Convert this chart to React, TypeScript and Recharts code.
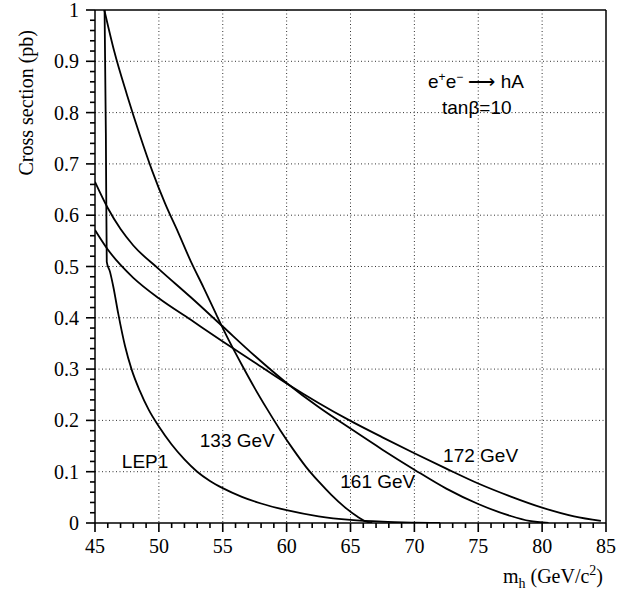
import React from "react";
import { LineChart, Line, XAxis, YAxis, CartesianGrid, ReferenceDot } from "recharts";

// curves: m_h (GeV/c^2) vs cross section (pb)
const lep1Mass = [45.75, 45.85, 45.92, 46.17, 46.43, 46.82, 47.35, 47.87, 48.5, 49.2, 50, 51, 52, 53, 54, 55, 56.5, 58, 60, 62.5, 65, 67.5, 70, 72];
const lep1Sigma = [1, 0.76, 0.509, 0.49, 0.461, 0.408, 0.345, 0.299, 0.258, 0.221, 0.188, 0.153, 0.124, 0.1, 0.082, 0.068, 0.051, 0.038, 0.025, 0.013, 0.006, 0.0025, 0.0008, 0];

const mass133 = [45.73, 46.5, 47.5, 48.5, 49.5, 50.5, 51.5, 52.5, 53.5, 54.5, 55.5, 56.5, 57.5, 58.5, 59.5, 60.5, 61.5, 62.5, 63.5, 64.5, 65.5, 66.2, 66.7];
const sigma133 = [1, 0.92, 0.835, 0.757, 0.685, 0.622, 0.567, 0.51, 0.459, 0.406, 0.355, 0.308, 0.263, 0.221, 0.181, 0.144, 0.11, 0.081, 0.055, 0.032, 0.013, 0.003, 0];

const mass161 = [45, 46, 47, 48, 50, 52.5, 55, 57.5, 60, 62.5, 65, 67.5, 70, 72.5, 75, 77.5, 79, 80.5];
const sigma161 = [0.665, 0.614, 0.573, 0.541, 0.495, 0.44, 0.383, 0.326, 0.273, 0.226, 0.184, 0.143, 0.104, 0.067, 0.037, 0.014, 0.004, 0];

const mass172 = [45, 46, 47, 48, 50, 52.5, 55, 57.5, 60, 62.5, 65, 67.5, 70, 72.5, 75, 77.5, 80, 82.5, 84.6];
const sigma172 = [0.571, 0.533, 0.503, 0.478, 0.438, 0.396, 0.354, 0.313, 0.272, 0.234, 0.199, 0.167, 0.136, 0.106, 0.077, 0.052, 0.03, 0.013, 0.004];

const xMajorTicks = [45, 50, 55, 60, 65, 70, 75, 80, 85];
const yMajorTicks = [0, 0.1, 0.2, 0.3, 0.4, 0.5, 0.6, 0.7, 0.8, 0.9, 1];
const yTickLabels = ["0", "0.1", "0.2", "0.3", "0.4", "0.5", "0.6", "0.7", "0.8", "0.9", "1"];

// curve labels, placed in data coordinates (left edge / baseline)
const curveLabels = [
  { x: 47.1, y: 0.107, text: "LEP1" },
  { x: 53.2, y: 0.148, text: "133 GeV" },
  { x: 64.2, y: 0.068, text: "161 GeV" },
  { x: 72.25, y: 0.119, text: "172 GeV" },
];

const toPoints = (m: number[], s: number[]) => m.map((x, i) => ({ x, y: s[i] }));

const curves = [
  { name: "LEP1", data: toPoints(lep1Mass, lep1Sigma) },
  { name: "133 GeV", data: toPoints(mass133, sigma133) },
  { name: "161 GeV", data: toPoints(mass161, sigma161) },
  { name: "172 GeV", data: toPoints(mass172, sigma172) },
];

// minor ticks: 4 between each pair of majors (majors themselves left out)
const minorOf = (majors: number[]) => {
  const out: number[] = [];
  for (let i = 0; i < majors.length - 1; i++) {
    const step = (majors[i + 1] - majors[i]) / 5;
    for (let k = 1; k < 5; k++) out.push(+(majors[i] + k * step).toFixed(4));
  }
  return out;
};
const xTicksAll = [...xMajorTicks, ...minorOf(xMajorTicks)].sort((a, b) => a - b);
const yTicksAll = [...yMajorTicks, ...minorOf(yMajorTicks)].sort((a, b) => a - b);

const SERIF = "'Liberation Serif', 'Times New Roman', serif";
const SANS = "'Liberation Sans', Arial, sans-serif";

const MAJOR_LEN = 9;
const MINOR_LEN = 5;
const TICK_W = 1.6;

const majorIndex = (list: number[], v: number) => list.findIndex((m) => Math.abs(m - v) < 1e-6);

const XTick = (props: any) => {
  const { x, y, payload } = props;
  const idx = majorIndex(xMajorTicks, payload.value);
  const len = idx >= 0 ? MAJOR_LEN : MINOR_LEN;
  return (
    <g>
      <rect x={x - TICK_W / 2} y={y} width={TICK_W} height={len} fill="#000" />
      {idx >= 0 && (
        <text x={x} y={y + 30} textAnchor="middle" fontFamily={SERIF} fontSize={20} fill="#000">
          {xMajorTicks[idx]}
        </text>
      )}
    </g>
  );
};

const YTick = (props: any) => {
  const { x, y, payload } = props;
  const idx = majorIndex(yMajorTicks, payload.value);
  const len = idx >= 0 ? MAJOR_LEN : MINOR_LEN;
  return (
    <g>
      <rect x={x - len} y={y - TICK_W / 2} width={len} height={TICK_W} fill="#000" />
      {idx >= 0 && (
        <text x={x - 16} y={y} dy={7} textAnchor="end" fontFamily={SERIF} fontSize={20} fill="#000">
          {yTickLabels[idx]}
        </text>
      )}
    </g>
  );
};

const scaleX = (xAxis: any, offset: any, v: number) =>
  xAxis && typeof xAxis.scale === "function" ? xAxis.scale(v) : offset.left + (offset.width * (v - 45)) / 40;
const scaleY = (yAxis: any, offset: any, v: number) =>
  yAxis && typeof yAxis.scale === "function" ? yAxis.scale(v) : offset.top + offset.height * (1 - v);

// dotted grid at the inner majors, solid frame on the top and right edges
const gridX = ({ xAxis, offset }: any) => xMajorTicks.slice(1, -1).map((v) => scaleX(xAxis, offset, v));
const gridY = ({ yAxis, offset }: any) => yMajorTicks.slice(1, -1).map((v) => scaleY(yAxis, offset, v));
const frameX = ({ xAxis, offset }: any) => [scaleX(xAxis, offset, xMajorTicks[xMajorTicks.length - 1])];
const frameY = ({ yAxis, offset }: any) => [scaleY(yAxis, offset, yMajorTicks[yMajorTicks.length - 1])];

const textLabel = (text: string) => ({
  content: (p: any) => (
    <text x={p.viewBox.x} y={p.viewBox.y} fontFamily={SANS} fontSize={19} fill="#000">
      {text}
    </text>
  ),
});

export default function App() {
  return (
    <div style={{ position: "absolute", left: 0, top: 0, background: "#fff" }}>
      <LineChart width={618} height={595} margin={{ top: 10, right: 12, bottom: 0, left: 0 }}>
        <CartesianGrid
          stroke="#333"
          strokeWidth={1}
          strokeDasharray="1 2.5"
          verticalCoordinatesGenerator={gridX}
          horizontalCoordinatesGenerator={gridY}
        />
        <CartesianGrid
          stroke="#000"
          strokeWidth={1.5}
          verticalCoordinatesGenerator={frameX}
          horizontalCoordinatesGenerator={frameY}
        />
        <XAxis
          dataKey="x"
          type="number"
          domain={[45, 85]}
          ticks={xTicksAll}
          interval={0}
          allowDataOverflow
          tickSize={0}
          tickMargin={0}
          tickLine={false}
          tick={<XTick />}
          height={72}
          axisLine={{ stroke: "#000", strokeWidth: 1.5 }}
          label={{
            content: (p: any) => {
              const vb = p.viewBox;
              return (
                <text x={vb.x + vb.width - 3} y={vb.y + 60} textAnchor="end" fontFamily={SERIF} fontSize={20} fill="#000">
                  m
                  <tspan dy={5} fontSize={14}>h</tspan>
                  <tspan dy={-5}> (GeV/c</tspan>
                  <tspan dy={-8} fontSize={14}>2</tspan>
                  <tspan dy={8}>)</tspan>
                </text>
              );
            },
          }}
        />
        <YAxis
          type="number"
          domain={[0, 1]}
          ticks={yTicksAll}
          interval={0}
          allowDataOverflow
          tickSize={0}
          tickMargin={0}
          tickLine={false}
          tick={<YTick />}
          width={95}
          axisLine={{ stroke: "#000", strokeWidth: 1.5 }}
          label={{
            content: (p: any) => {
              const vb = p.viewBox;
              const tx = vb.x + 33;
              const ty = vb.y + 20;
              return (
                <text x={tx} y={ty} transform={`rotate(-90, ${tx}, ${ty})`} textAnchor="end" fontFamily={SERIF} fontSize={20} fill="#000">
                  Cross section (pb)
                </text>
              );
            },
          }}
        />
        {curves.map((c) => (
          <Line
            key={c.name}
            name={c.name}
            data={c.data}
            dataKey="y"
            type="monotone"
            stroke="#000"
            strokeWidth={1.8}
            dot={false}
            activeDot={false}
            isAnimationActive={false}
          />
        ))}
        {curveLabels.map((l) => (
          <ReferenceDot key={l.text} x={l.x} y={l.y} r={0} fill="none" stroke="none" label={textLabel(l.text)} />
        ))}
        <ReferenceDot
          x={71.07}
          y={0.848}
          r={0}
          fill="none"
          stroke="none"
          label={{
            content: (p: any) => (
              <text x={p.viewBox.x} y={p.viewBox.y} fontFamily={SANS} fontSize={19} fill="#000">
                e<tspan dy={-7} fontSize={12}>+</tspan>
                <tspan dy={7}>e</tspan>
                <tspan dy={-7} fontSize={12}>−</tspan>
                <tspan dy={7}> ⟶ hA</tspan>
              </text>
            ),
          }}
        />
        <ReferenceDot x={72.16} y={0.797} r={0} fill="none" stroke="none" label={textLabel("tanβ=10")} />
      </LineChart>
    </div>
  );
}
